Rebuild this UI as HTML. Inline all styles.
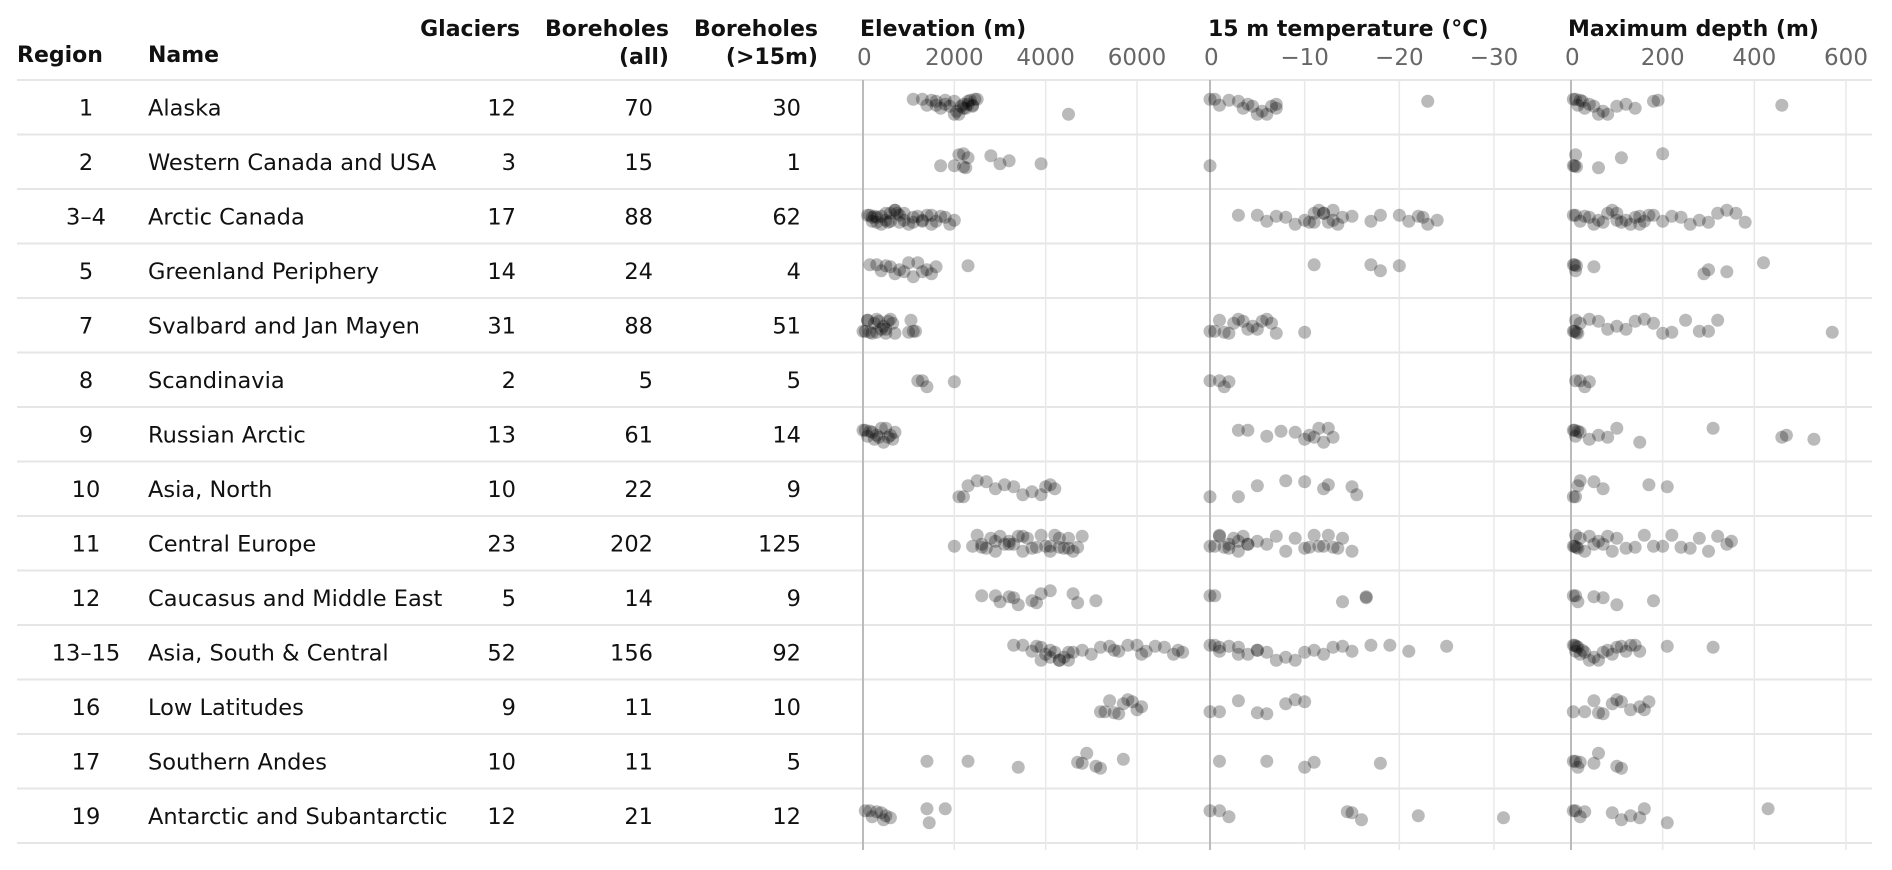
<!DOCTYPE html>
<html><head><meta charset="utf-8"><style>
html,body{margin:0;padding:0;background:#fff;}
svg{display:block;font-family:"DejaVu Sans","Liberation Sans",sans-serif;}
</style></head><body>
<svg id="chart" width="1892" height="870" viewBox="0 0 1892 870" xmlns="http://www.w3.org/2000/svg">
<g id="grid"></g>
<g id="headers" font-weight="bold" font-size="22" fill="#111">
  <text x="17" y="62">Region</text>
  <text x="148" y="62">Name</text>
  <text x="520" y="36" text-anchor="end">Glaciers</text>
  <text x="669" y="36" text-anchor="end">Boreholes</text>
  <text x="669" y="64" text-anchor="end">(all)</text>
  <text x="818" y="36" text-anchor="end">Boreholes</text>
  <text x="818" y="64" text-anchor="end">(&gt;15m)</text>
  <text x="860" y="36">Elevation (m)</text>
  <text x="1208" y="36">15 m temperature (°C)</text>
  <text x="1568" y="36">Maximum depth (m)</text>
</g>
<g id="rows" font-size="22.5" fill="#111"></g>
<g id="ticks" font-size="23" fill="#666"></g>
<g id="points"></g>
</svg>
<script>
const regions = ["1","2","3–4","5","7","8","9","10","11","12","13–15","16","17","19"];
const names = ["Alaska","Western Canada and USA","Arctic Canada","Greenland Periphery","Svalbard and Jan Mayen","Scandinavia","Russian Arctic","Asia, North","Central Europe","Caucasus and Middle East","Asia, South & Central","Low Latitudes","Southern Andes","Antarctic and Subantarctic"];
const glaciers = [12,3,17,14,31,2,13,10,23,5,52,9,10,12];
const boreholesAll = [70,15,88,24,88,5,61,22,202,14,156,11,11,21];
const boreholes15 = [30,1,62,4,51,5,14,9,125,9,92,10,5,12];
const elevTicks = [0,2000,4000,6000];
const tempTicks = [0,-10,-20,-30];
const depthTicks = [0,200,400,600];
const elevation = [
 [1100,1300,1400,1500,1600,1700,1800,1900,2000,2050,2100,2150,2200,2250,2300,2350,2400,2450,2500,1600,1800,2000,2200,2300,2400,4500],
 [1700,2000,2100,2200,2250,2300,2200,2800,3000,3200,3900],
 [100,150,200,250,300,400,500,550,600,700,750,800,900,1000,1100,1200,1300,1400,1500,1600,1700,1800,1900,2000,300,500,700,900,1100,1300,1500,200,400,600,800],
 [150,300,400,500,600,700,800,900,1000,1100,1200,1300,1400,1500,1600,2300],
 [0,50,100,150,200,250,300,350,400,450,500,550,600,650,700,1000,1050,1100,1150,100,300,500],
 [1200,1300,1400,2000],
 [0,50,100,150,200,250,300,350,400,450,500,550,600,650,700],
 [2100,2200,2300,2500,2700,2900,3100,3300,3500,3700,3900,4000,4100,4200],
 [2000,2400,2500,2600,2700,2800,2900,3000,3100,3200,3300,3400,3500,3600,3700,3800,3900,4000,4100,4200,4300,4400,4500,4600,4800,2600,2900,3200,3500,4100,4300,4500,4700],
 [2600,2900,3000,3200,3300,3400,3700,3800,3900,4100,4600,4700,5100],
 [3300,3500,3700,3800,3900,4000,4100,4200,4300,4400,4500,4600,4800,5000,5200,5400,5600,5800,6000,6200,6400,6600,6800,6900,7000,3900,4100,4300,4500,5500,6100],
 [5200,5300,5400,5500,5600,5700,5800,5900,6000,6100],
 [1400,2300,3400,4700,4800,4900,5100,5200,5700],
 [50,150,200,300,400,450,500,600,1400,1450,1800]
];
const temperature = [
 [0,-0.5,-1,-2,-3,-3.5,-4,-4.5,-5,-5.5,-6,-6.5,-7,-7,-23],
 [0],
 [-3,-5,-6,-7,-8,-9,-10,-10.5,-11,-11.5,-12,-12.5,-13,-13.5,-14,-15,-17,-18,-20,-21,-22,-22.5,-23,-24,-11,-12,-13],
 [-11,-17,-18,-20],
 [0,-0.5,-1,-1.5,-2,-2.5,-3,-3.5,-4,-4.5,-5,-5.5,-6,-6.5,-7,-10],
 [0,-1,-1.5,-2],
 [-3,-4,-6,-7.5,-9,-10,-10.5,-11,-11.5,-12,-12.5,-13],
 [0,-3,-5,-8,-10,-12,-12.5,-15,-15.5],
 [0,-0.5,-1,-1.5,-2,-2.5,-3,-3.5,-4,-5,-6,-7,-8,-9,-10,-10.5,-11,-11.5,-12,-12.5,-13,-13.5,-14,-15,-1,-2,-3,-4],
 [0,-0.5,-14,-16.5,-16.5],
 [0,-0.5,-1,-2,-3,-4,-5,-6,-7,-8,-9,-10,-11,-12,-13,-14,-15,-17,-19,-21,-25,-1,-3,-5],
 [0,-1,-3,-5,-6,-8,-9,-10],
 [-1,-6,-10,-11,-18],
 [0,-1,-2,-14.5,-15,-16,-22,-31]
];
const depth = [
 [5,10,15,20,25,30,40,50,60,70,80,100,120,140,180,190,460],
 [5,8,10,12,60,110,200],
 [5,10,20,30,40,50,60,70,80,90,100,110,120,130,140,150,160,170,180,200,220,240,260,280,300,320,340,360,380,100,150],
 [5,8,10,12,50,290,300,340,420],
 [5,8,10,12,15,20,40,60,80,100,120,140,160,180,200,220,250,280,300,320,570],
 [10,20,30,40],
 [5,8,10,15,20,40,60,80,100,150,310,460,470,530,740],
 [5,10,15,20,50,70,170,210],
 [5,8,10,12,15,20,30,40,50,60,70,80,90,100,120,140,160,180,200,220,240,260,280,300,320,340,350],
 [5,10,15,50,70,100,180],
 [5,8,10,12,15,20,25,30,40,50,60,70,80,90,100,110,120,130,140,150,210,310],
 [5,30,50,60,70,90,100,110,130,150,160,170],
 [5,10,15,20,50,60,100,110],
 [5,10,20,30,90,110,130,150,160,210,430]
];
const NS="http://www.w3.org/2000/svg";
const rowTop=80, rowH=54.5, left=17, right=1872, gridBottom=850;
const xElev=v=>863+v*(274/6000);
const xTemp=v=>1210-v*(284/30);
const xDepth=v=>1571+v*(275/600);
const rowY=i=>rowTop+rowH*(i+0.5);
function mk(tag,attrs,parent){const e=document.createElementNS(NS,tag);for(const k in attrs)e.setAttribute(k,attrs[k]);parent.appendChild(e);return e;}
const grid=document.getElementById('grid'),rows=document.getElementById('rows'),ticks=document.getElementById('ticks'),pts=document.getElementById('points');
for(let i=0;i<=regions.length;i++){
  const l=mk('line',{x1:left,x2:right,y1:rowTop+rowH*i,y2:rowTop+rowH*i,stroke:'#e6e6e6','stroke-width':2},grid);
  
  
}
const panels=[[elevTicks,xElev,'elevation'],[tempTicks,xTemp,'temperature'],[depthTicks,xDepth,'depth']];
panels.forEach(([tk,f,nm])=>{
  tk.forEach((t,j)=>{
    const g=mk('line',{x1:f(t),x2:f(t),y1:rowTop,y2:gridBottom,stroke:j===0?'#bbbbbb':'#e8e8e8','stroke-width':j===0?2:1.5},grid);
    
    
    const tx=mk('text',{x:f(t),y:65,'text-anchor':j===0?'start':'middle'},ticks);
    if(j===0)tx.setAttribute('x',f(t)-6);
    tx.textContent=t<0?'−'+Math.abs(t):String(t);
    
    
  });
});
regions.forEach((r,i)=>{
  const y=rowY(i)+8;
  const cells=[[r,86,'middle','region-number'],[names[i],148,'start','region-name'],[glaciers[i],516,'end','glaciers-count'],[boreholesAll[i],653,'end','boreholes-all-count'],[boreholes15[i],801,'end','boreholes-15m-count']];
  cells.forEach(([t,x,a,n])=>{
    const e=mk('text',{x:x,y:y,'text-anchor':a},rows);
    e.textContent=t;
    
    
  });
  [[elevation[i],xElev,'elevation-point'],[temperature[i],xTemp,'temperature-point'],[depth[i],xDepth,'depth-point']].forEach(([vals,f,n])=>{
    vals.forEach((v,k)=>{
      const jit=((k*7919+i*131+k*k*3)%17)-8;
      const c=mk('circle',{cx:f(v),cy:rowY(i)+jit,r:6.5,fill:'#000','fill-opacity':0.27},pts);
      
      
    });
  });
});
</script>
</body></html>
